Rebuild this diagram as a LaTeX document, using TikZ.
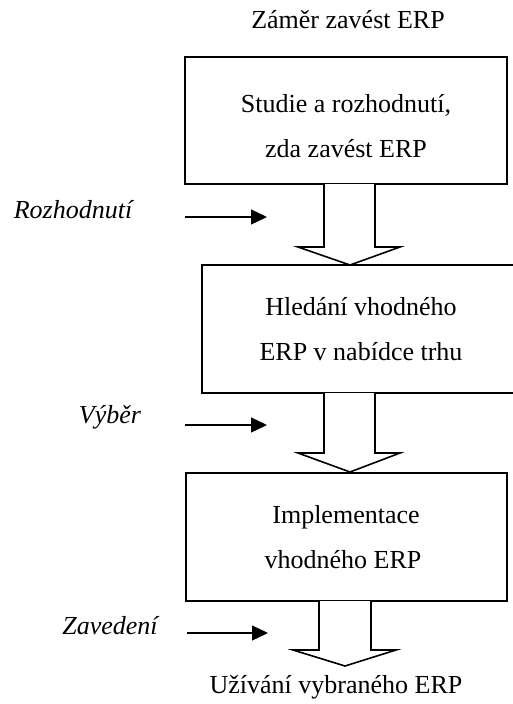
\documentclass[tikz,border=0pt]{standalone}
\usepackage{fontspec}
\setmainfont{Liberation Serif}
\usetikzlibrary{arrows.meta}
\begin{document}
\begin{tikzpicture}[x=1pt,y=-1pt,
  every node/.style={font=\fontsize{26}{26}\selectfont, inner sep=0pt},
  stage/.style={draw=black, line width=1.6pt, fill=white},
  inlbl/.style={font=\fontsize{26}{26}\selectfont\itshape, anchor=base},
  txt/.style={anchor=base},
  flow/.style={draw=black, line width=1.6pt, fill=white, line join=miter},
  feed/.style={draw=black, line width=1.3pt, -{Triangle[length=16pt,width=15pt]}}]
\useasboundingbox (0,0) rectangle (513,704);
\clip (0,0) rectangle (513,704);

% stage boxes
\draw[stage] (185,57) rectangle (507,184);
\draw[stage] (202,265) rectangle (519,393);
\draw[stage] (186,473) rectangle (507,601);

% box texts
\node[txt] (t0) at (348,28) {Záměr zavést ERP};
\node[txt] (b1a) at (346,112) {Studie a rozhodnutí,};
\node[txt] (b1b) at (346,157) {zda zavést ERP};
\node[txt] (b2a) at (361,315) {Hledání vhodného};
\node[txt] (b2b) at (361,360) {ERP v nabídce trhu};
\node[txt] (b3a) at (346,523) {Implementace};
\node[txt] (b3b) at (343,568) {vhodného ERP};
\node[txt] (t4) at (336,693) {Užívání vybraného ERP};

% hollow block arrows between stages
\draw[flow] (324,184) -- (324,247) -- (298,247) -- (350,265) -- (400,247) -- (375,247) -- (375,184);
\draw[flow] (324,393) -- (324,453) -- (298,453) -- (350,472) -- (400,453) -- (375,453) -- (375,393);
\draw[flow] (319,601) -- (319,650) -- (293,650) -- (345,666) -- (396,650) -- (371,650) -- (371,601);

% decision labels with input arrows
\node[inlbl] (l1) at (73,218) {Rozhodnutí};
\node[inlbl] (l2) at (110,423) {Výběr};
\node[inlbl] (l3) at (110,634) {Zavedení};
\coordinate (a1s) at (185,217); \coordinate (a1e) at (267,217);
\coordinate (a2s) at (185,425); \coordinate (a2e) at (267,425);
\coordinate (a3s) at (187,633); \coordinate (a3e) at (268,633);
\draw[feed] (a1s) -- (a1e);
\draw[feed] (a2s) -- (a2e);
\draw[feed] (a3s) -- (a3e);
\end{tikzpicture}
\end{document}
